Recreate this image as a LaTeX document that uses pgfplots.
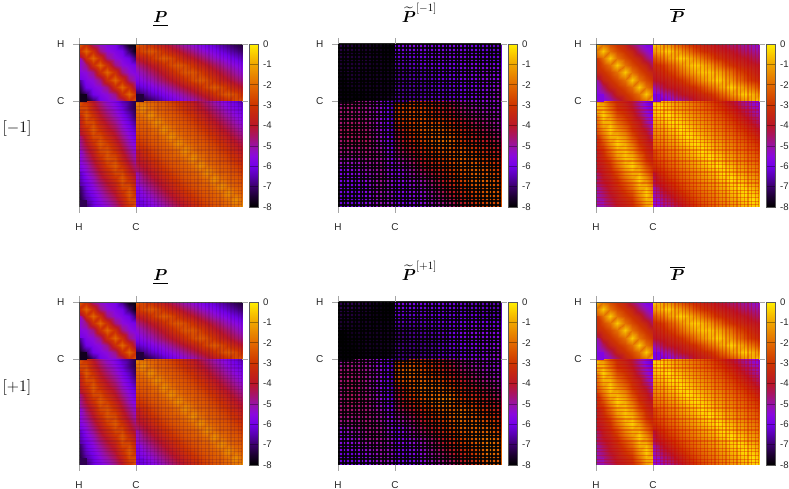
\documentclass[border=0pt]{standalone}
\usepackage{amsmath}
\usepackage{amssymb}
\usepackage{fontspec}
\usepackage{pgfplots}
\usepackage{pgfplotstable}
\pgfplotsset{compat=1.18}
\newfontfamily\gp{Liberation Sans}
\pgfplotsset{colormap={gpal}{
  rgb255(0)=(0,0,0) rgb255(1)=(28,0,48) rgb255(2)=(58,0,105) rgb255(3)=(88,0,175)
  rgb255(4)=(115,0,232) rgb255(5)=(138,8,222) rgb255(6)=(152,18,165) rgb255(7)=(168,20,100)
  rgb255(8)=(186,22,40) rgb255(10)=(206,52,0) rgb255(12)=(226,106,0) rgb255(14)=(240,165,0)
  rgb255(15)=(250,200,0) rgb255(16)=(255,240,0)}}
% all values below: depth in tenths of a decade, 32 means -3.2; rows run top to bottom
% ---- P, H/C blocks
\pgfplotstableread[row sep=crcr,header=false]{
21\\32\\47\\54\\57\\59\\68\\78\\80\\
32\\21\\32\\47\\54\\57\\60\\70\\79\\
47\\32\\21\\32\\47\\54\\57\\61\\70\\
54\\47\\32\\21\\32\\47\\54\\57\\60\\
57\\54\\47\\32\\21\\32\\47\\54\\57\\
60\\57\\54\\47\\32\\21\\32\\47\\54\\
68\\60\\57\\54\\47\\32\\21\\32\\47\\
78\\70\\60\\57\\54\\47\\32\\21\\32\\
80\\79\\70\\60\\57\\54\\47\\32\\22\\
}\tabPhh
\pgfplotstableread[row sep=crcr,header=false]{
23\\26\\31\\36\\40\\44\\48\\52\\55\\58\\61\\63\\66\\69\\72\\75\\
31\\26\\23\\26\\31\\36\\40\\44\\48\\52\\55\\58\\61\\64\\67\\70\\
40\\36\\31\\26\\23\\26\\31\\36\\40\\44\\48\\52\\55\\58\\61\\64\\
48\\44\\40\\36\\31\\26\\23\\26\\31\\36\\40\\44\\48\\52\\55\\58\\
54\\50\\46\\42\\38\\33\\28\\24\\24\\28\\33\\38\\42\\46\\50\\54\\
58\\55\\52\\48\\44\\40\\36\\31\\26\\23\\26\\31\\36\\40\\44\\48\\
64\\61\\58\\55\\52\\48\\44\\40\\36\\31\\26\\23\\26\\31\\36\\40\\
72\\68\\64\\61\\58\\55\\52\\48\\44\\40\\36\\31\\26\\23\\26\\31\\
79\\76\\72\\68\\64\\61\\58\\55\\52\\48\\44\\40\\36\\31\\26\\23\\
}\tabPhc
\pgfplotstableread[row sep=crcr,header=false]{
23\\31\\40\\48\\54\\58\\64\\68\\74\\
26\\26\\36\\44\\50\\55\\61\\68\\74\\
31\\23\\31\\40\\46\\52\\58\\64\\72\\
36\\26\\26\\36\\42\\48\\55\\61\\68\\
40\\31\\23\\31\\38\\44\\52\\58\\64\\
44\\36\\26\\26\\33\\40\\48\\55\\61\\
48\\40\\31\\23\\28\\36\\44\\52\\58\\
52\\44\\36\\26\\24\\31\\40\\48\\55\\
55\\48\\40\\31\\24\\26\\36\\44\\52\\
58\\52\\44\\36\\28\\23\\31\\40\\48\\
61\\55\\48\\40\\33\\26\\26\\36\\44\\
64\\58\\52\\44\\38\\31\\23\\31\\40\\
67\\61\\55\\48\\42\\36\\26\\26\\36\\
71\\63\\58\\52\\46\\40\\31\\23\\31\\
75\\66\\61\\55\\50\\44\\36\\26\\26\\
79\\70\\62\\58\\54\\48\\40\\31\\23\\
}\tabPch
\pgfplotstableread[row sep=crcr,header=false]{
14\\19\\22\\23\\25\\28\\31\\35\\39\\43\\47\\51\\55\\58\\61\\65\\
19\\14\\19\\22\\23\\25\\28\\31\\35\\39\\43\\47\\51\\55\\58\\61\\
22\\19\\14\\19\\22\\23\\25\\28\\31\\35\\39\\43\\47\\51\\55\\58\\
23\\22\\19\\14\\19\\22\\23\\25\\28\\31\\35\\39\\43\\47\\51\\55\\
25\\23\\22\\19\\14\\19\\22\\23\\25\\28\\31\\35\\39\\43\\47\\51\\
28\\25\\23\\22\\19\\14\\19\\22\\23\\25\\28\\31\\35\\39\\43\\47\\
31\\28\\25\\23\\22\\19\\14\\19\\22\\23\\25\\28\\31\\35\\39\\43\\
35\\31\\28\\25\\23\\22\\19\\14\\19\\22\\23\\25\\28\\31\\35\\39\\
39\\35\\31\\28\\25\\23\\22\\19\\14\\19\\22\\23\\25\\28\\31\\35\\
43\\39\\35\\31\\28\\25\\23\\22\\19\\14\\19\\22\\23\\25\\28\\31\\
47\\43\\39\\35\\31\\28\\25\\23\\22\\19\\14\\19\\22\\23\\25\\28\\
51\\47\\43\\39\\35\\31\\28\\25\\23\\22\\19\\14\\19\\22\\23\\25\\
55\\51\\47\\43\\39\\35\\31\\28\\25\\23\\22\\19\\14\\19\\22\\23\\
58\\55\\51\\47\\43\\39\\35\\31\\28\\25\\23\\22\\19\\14\\19\\22\\
61\\58\\55\\51\\47\\43\\39\\35\\31\\28\\25\\23\\22\\19\\14\\19\\
65\\61\\58\\55\\51\\47\\43\\39\\35\\31\\28\\25\\23\\22\\19\\14\\
}\tabPcc
% ---- P bar
\pgfplotstableread[row sep=crcr,header=false]{
5\\19\\26\\31\\36\\45\\52\\58\\60\\
19\\5\\19\\26\\31\\36\\45\\52\\58\\
26\\19\\5\\19\\26\\31\\36\\45\\52\\
31\\26\\19\\5\\19\\26\\31\\36\\45\\
36\\31\\26\\19\\5\\19\\26\\31\\36\\
45\\36\\31\\26\\19\\5\\19\\26\\31\\
52\\45\\36\\31\\26\\19\\5\\19\\26\\
58\\52\\45\\36\\31\\26\\19\\5\\19\\
60\\58\\52\\45\\36\\31\\26\\19\\5\\
}\tabRhh
\pgfplotstableread[row sep=crcr,header=false]{
4\\8\\13\\19\\25\\30\\33\\36\\38\\40\\43\\46\\48\\50\\52\\55\\
13\\8\\4\\8\\13\\19\\25\\30\\33\\36\\38\\40\\43\\46\\48\\50\\
25\\19\\13\\8\\4\\8\\13\\19\\25\\30\\33\\36\\38\\40\\43\\46\\
33\\30\\25\\19\\13\\8\\4\\8\\13\\19\\25\\30\\33\\36\\38\\40\\
37\\34\\30\\26\\20\\14\\9\\6\\6\\9\\14\\20\\26\\30\\34\\37\\
40\\38\\36\\33\\30\\25\\19\\13\\8\\4\\8\\13\\19\\25\\30\\33\\
50\\45\\40\\38\\36\\33\\30\\25\\19\\13\\8\\4\\8\\13\\19\\25\\
58\\54\\50\\45\\40\\38\\36\\33\\30\\25\\19\\13\\8\\4\\8\\13\\
64\\62\\58\\54\\50\\45\\40\\38\\36\\33\\30\\25\\19\\13\\8\\4\\
}\tabRhc
\pgfplotstableread[row sep=crcr,header=false]{
4\\13\\25\\33\\37\\42\\50\\58\\64\\
8\\8\\19\\30\\34\\40\\48\\56\\62\\
13\\4\\13\\25\\30\\36\\44\\52\\60\\
19\\8\\8\\19\\26\\33\\38\\48\\56\\
25\\13\\4\\13\\20\\30\\36\\42\\52\\
30\\19\\8\\8\\14\\25\\33\\38\\46\\
33\\25\\13\\4\\9\\19\\30\\36\\40\\
36\\30\\19\\8\\6\\13\\25\\33\\38\\
38\\33\\25\\13\\6\\8\\19\\30\\36\\
40\\36\\30\\19\\9\\4\\13\\25\\33\\
43\\38\\33\\25\\14\\8\\8\\19\\30\\
46\\40\\36\\30\\20\\13\\4\\13\\25\\
48\\43\\38\\33\\26\\19\\8\\8\\19\\
50\\46\\40\\36\\30\\25\\13\\4\\13\\
52\\48\\43\\38\\34\\30\\19\\8\\8\\
55\\50\\46\\40\\37\\33\\25\\13\\4\\
}\tabRch
\pgfplotstableread[row sep=crcr,header=false]{
2\\5\\8\\11\\14\\17\\20\\23\\27\\31\\36\\41\\46\\50\\54\\58\\
5\\2\\5\\8\\11\\14\\17\\20\\23\\27\\31\\36\\41\\46\\50\\54\\
8\\5\\2\\5\\8\\11\\14\\17\\20\\23\\27\\31\\36\\41\\46\\50\\
11\\8\\5\\2\\5\\8\\11\\14\\17\\20\\23\\27\\31\\36\\41\\46\\
14\\11\\8\\5\\2\\5\\8\\11\\14\\17\\20\\23\\27\\31\\36\\41\\
17\\14\\11\\8\\5\\2\\5\\8\\11\\14\\17\\20\\23\\27\\31\\36\\
20\\17\\14\\11\\8\\5\\2\\5\\8\\11\\14\\17\\20\\23\\27\\31\\
23\\20\\17\\14\\11\\8\\5\\2\\5\\8\\11\\14\\17\\20\\23\\27\\
27\\23\\20\\17\\14\\11\\8\\5\\2\\5\\8\\11\\14\\17\\20\\23\\
31\\27\\23\\20\\17\\14\\11\\8\\5\\2\\5\\8\\11\\14\\17\\20\\
36\\31\\27\\23\\20\\17\\14\\11\\8\\5\\2\\5\\8\\11\\14\\17\\
41\\36\\31\\27\\23\\20\\17\\14\\11\\8\\5\\2\\5\\8\\11\\14\\
46\\41\\36\\31\\27\\23\\20\\17\\14\\11\\8\\5\\2\\5\\8\\11\\
50\\46\\41\\36\\31\\27\\23\\20\\17\\14\\11\\8\\5\\2\\5\\8\\
54\\50\\46\\41\\36\\31\\27\\23\\20\\17\\14\\11\\8\\5\\2\\5\\
58\\54\\50\\46\\41\\36\\31\\27\\23\\20\\17\\14\\11\\8\\5\\2\\
}\tabRcc
% ---- P tilde [-1], coarse
\pgfplotstableread[row sep=crcr,header=false]{
72\\74\\76\\78\\80\\
74\\74\\74\\76\\78\\
76\\74\\76\\76\\76\\
78\\76\\76\\76\\76\\
80\\80\\78\\76\\72\\
}\tabAhh
\pgfplotstableread[row sep=crcr,header=false]{
58\\56\\56\\58\\58\\58\\60\\62\\64\\
62\\62\\60\\58\\58\\58\\58\\60\\62\\
68\\66\\64\\62\\60\\58\\56\\54\\56\\
68\\66\\66\\62\\62\\60\\58\\56\\52\\
66\\66\\64\\62\\62\\60\\58\\54\\50\\
}\tabAhc
\pgfplotstableread[row sep=crcr,header=false]{
49\\46\\48\\54\\66\\
46\\46\\48\\54\\66\\
46\\44\\46\\54\\66\\
44\\44\\44\\52\\64\\
48\\48\\46\\48\\60\\
54\\54\\50\\48\\60\\
58\\58\\54\\48\\56\\
58\\60\\56\\50\\54\\
64\\62\\56\\52\\54\\
}\tabAch
\pgfplotstableread[row sep=crcr,header=false]{
30\\28\\32\\36\\42\\48\\52\\54\\54\\
30\\26\\26\\34\\38\\44\\48\\50\\52\\
36\\30\\24\\22\\28\\36\\42\\46\\50\\
42\\36\\28\\22\\20\\30\\36\\40\\44\\
48\\44\\36\\30\\26\\22\\28\\34\\38\\
54\\50\\42\\36\\30\\24\\22\\26\\32\\
56\\54\\50\\44\\36\\28\\22\\22\\28\\
58\\56\\54\\48\\42\\36\\28\\22\\24\\
60\\58\\56\\52\\48\\42\\34\\28\\26\\
}\tabAcc
% ---- P tilde [+1], coarse
\pgfplotstableread[row sep=crcr,header=false]{
72\\72\\74\\78\\80\\
74\\74\\76\\78\\78\\
76\\76\\76\\76\\76\\
80\\78\\76\\76\\76\\
80\\80\\78\\78\\74\\
}\tabBhh
\pgfplotstableread[row sep=crcr,header=false]{
58\\58\\60\\60\\60\\62\\64\\64\\66\\
62\\62\\62\\60\\60\\60\\60\\62\\64\\
68\\68\\66\\64\\62\\58\\56\\56\\58\\
70\\68\\68\\66\\62\\60\\58\\56\\54\\
68\\68\\66\\64\\62\\60\\58\\54\\52\\
}\tabBhc
\pgfplotstableread[row sep=crcr,header=false]{
52\\48\\50\\56\\66\\
46\\46\\48\\54\\66\\
46\\44\\48\\56\\66\\
48\\44\\46\\54\\64\\
46\\46\\46\\50\\60\\
48\\48\\46\\48\\58\\
54\\54\\48\\48\\54\\
58\\58\\54\\50\\54\\
64\\62\\58\\52\\54\\
}\tabBch
\pgfplotstableread[row sep=crcr,header=false]{
30\\28\\32\\36\\42\\48\\52\\54\\54\\
26\\20\\26\\32\\38\\44\\48\\52\\54\\
32\\26\\20\\22\\28\\36\\42\\46\\50\\
42\\34\\26\\20\\18\\30\\34\\40\\44\\
48\\44\\36\\28\\24\\20\\26\\32\\38\\
54\\50\\42\\36\\28\\22\\22\\24\\32\\
58\\54\\50\\44\\36\\28\\22\\18\\24\\
60\\58\\54\\48\\42\\36\\28\\18\\22\\
60\\60\\56\\52\\48\\42\\34\\26\\24\\
}\tabBcc
\pgfplotstableread[row sep=crcr,header=false]{0\\0\\0\\0\\}\tabCell
% one rectangular block of a panel
\newcommand{\blockplot}[6]{%
  \addplot[surf,shader=interp,mesh/cols=#2,point meta=explicit]
    table[x index=0,y index=0,x expr={#3+mod(\coordindex,#2)*#4},y expr={#5-floor(\coordindex/#2)*#6},
          meta expr={-\thisrowno{0}/10}] {#1};}
\newcommand{\Block}[6]{\expandafter\blockplot\expandafter{\csname tab#1\endcsname}{#2}{#3}{#4}{#5}{#6}}
% lower left cell of a block, flat: interp leaves half of it white here
\newcommand{\Cell}[5]{%
  \addplot[surf,shader=flat,mesh/cols=2,point meta=explicit]
    table[x index=0,y index=0,x expr={#1+mod(\coordindex,2)*#2},y expr={#3+floor(\coordindex/2)*#4},
          meta expr={-#5/10}] {\tabCell};}
\newcommand{\cornersP}{\Cell{0}{7.125}{106}{7.125}{77}\Cell{57}{7.07}{106}{7.125}{74}\Cell{0}{7.125}{0}{7.07}{72}\Cell{57}{7.07}{0}{7.07}{61}}
\newcommand{\cornersR}{\Cell{0}{7.125}{106}{7.125}{57}\Cell{57}{7.07}{106}{7.125}{59}\Cell{0}{7.125}{0}{7.07}{51}\Cell{57}{7.07}{0}{7.07}{54}}
\newcommand{\cornersA}{\Cell{0}{14.25}{106}{14.25}{78}\Cell{57}{13.25}{106}{14.25}{66}\Cell{0}{14.25}{0}{13.25}{61}\Cell{57}{13.25}{0}{13.25}{58}}
\newcommand{\cornersB}{\Cell{0}{14.25}{106}{14.25}{79}\Cell{57}{13.25}{106}{14.25}{68}\Cell{0}{14.25}{0}{13.25}{61}\Cell{57}{13.25}{0}{13.25}{59}}
\pgfplotsset{heat/.style={
  scale only axis,width=163pt,height=163pt,anchor=south west,
  xmin=0,xmax=163,ymin=0,ymax=163,
  axis on top,axis line style={draw=none},
  xtick={0,57},xticklabels={H,C},ytick={106,163},yticklabels={C,H},
  tick pos=both,tick align=outside,major tick length=6pt,
  xticklabel pos=lower,yticklabel pos=left,
  tick style={gray!70,line width=.7pt},
  tick label style={font=\gp\fontsize{10}{10}\selectfont,black!85},
  xticklabel style={yshift=-7pt},yticklabel style={xshift=-5pt},
  minor xtick={60.65,64.3,...,163},minor ytick={2.15,5.8,...,106},
  minor tick length=0pt,xminorgrids=true,yminorgrids=true,
  title style={at={(0.5,1)},anchor=base,yshift=15pt,font=\Large,scale=1.11},
  colormap name=gpal,point meta min=-8,point meta max=0,
  colorbar,colorbar shift/.style={xshift=1pt},
  colorbar style={scale only axis,width=9pt,height=163pt,
    ytick={-8,-7,-6,-5,-4,-3,-2,-1,0},yticklabels={-8,-7,-6,-5,-4,-3,-2,-1,0},
    tick align=inside,major tick length=9pt,tick pos=right,
    tick style={black,opacity=.35,line width=.6pt},
    axis line style={gray!70!black,line width=.6pt},
    tick label style={font=\gp\fontsize{9.6}{10}\selectfont,black!85},
    yticklabel style={xshift=1.2pt}},
}}
% #1,#2 corner; #3 title; #4 table prefix; #5,#6 H nodes/step; #7,#8 C nodes/step; #9 lattice options
\newcommand{\Panel}[9]{%
\begin{axis}[heat,at={(#1pt,#2pt)},title={#3},#9]
  \Block{#4hh}{#5}{0}{#6}{163}{#6}
  \Block{#4hc}{#7}{57}{#8}{163}{#6}
  \Block{#4ch}{#5}{0}{#6}{106}{#8}
  \Block{#4cc}{#7}{57}{#8}{106}{#8}
  \csname corners#4\endcsname
  \draw[gray!60!black,line width=.7pt] (rel axis cs:0,0)--(rel axis cs:0,1)--(rel axis cs:1,1);
\end{axis}}
\pgfplotsset{
  latP/.style={minor grid style={black!50!violet,opacity=.16,line width=1.2pt}},
  latT/.style={minor xtick={0.9,4.55,...,163},minor ytick={2.15,5.8,...,163},
    minor grid style={black,opacity=.85,line width=2pt}},
  latR/.style={minor grid style={red!80!black,opacity=.32,line width=1.2pt}}}
\begin{document}
\begin{tikzpicture}[x=1pt,y=1pt]
\path[use as bounding box] (0,0) rectangle (789,489);
\Panel{79}{282}{$\underline{\boldsymbol{P}}$}{P}{9}{7.125}{16}{7.0667}{latP}
\Panel{338}{282}{$\widetilde{\boldsymbol{P}}^{[-1]}$}{A}{5}{14.25}{9}{13.25}{latT}
\Panel{596}{282}{$\overline{\boldsymbol{P}}$}{R}{9}{7.125}{16}{7.0667}{latR}
\Panel{79}{24}{$\underline{\boldsymbol{P}}$}{P}{9}{7.125}{16}{7.0667}{latP}
\Panel{338}{24}{$\widetilde{\boldsymbol{P}}^{[+1]}$}{B}{5}{14.25}{9}{13.25}{latT}
\Panel{596}{24}{$\overline{\boldsymbol{P}}$}{R}{9}{7.125}{16}{7.0667}{latR}
\node[font=\Large,scale=1.11] at (17,360) {$[-1]$};
\node[font=\Large,scale=1.11] at (17,101) {$[+1]$};
\end{tikzpicture}
\end{document}
